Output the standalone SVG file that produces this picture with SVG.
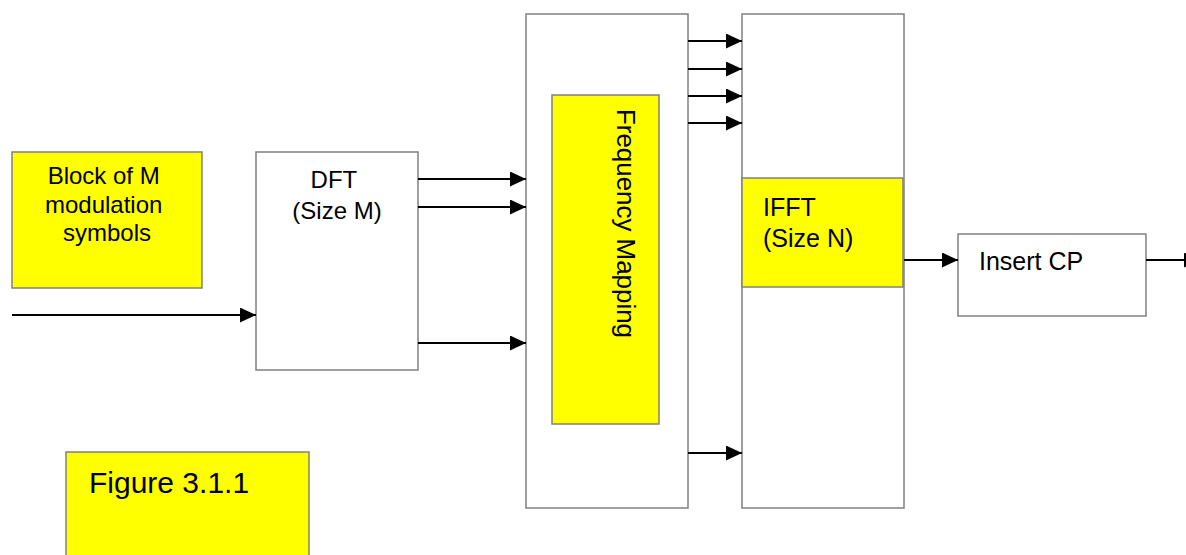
<svg xmlns="http://www.w3.org/2000/svg" width="1186" height="555" viewBox="0 0 1186 555">
  <style>
    .box { fill: #ffffff; stroke: #808080; stroke-width: 1.5; }
    .ybox { fill: #ffff00; stroke: #808080; stroke-width: 1.5; }
    .lbl { font-family: "Liberation Sans", Arial, sans-serif; fill: #000000; }
    .conn { stroke: #000000; stroke-width: 2.2; fill: none; marker-end: url(#arrow); }
  </style>
  <defs>
    <marker id="arrow" markerUnits="userSpaceOnUse" markerWidth="16" markerHeight="15" refX="16" refY="7.5" orient="auto">
      <path d="M0,0 L16,7.5 L0,15 z" fill="#000000"/>
    </marker>
  </defs>
  <rect width="1186" height="555" fill="#ffffff"/>

  <g id="block-of-m">
    <rect class="ybox" x="12" y="152" width="190" height="136"/>
    <text class="lbl" font-size="24" text-anchor="middle">
      <tspan x="107" y="184">Block of M</tspan>
      <tspan x="107" y="213">modulation</tspan>
      <tspan x="107" y="241">symbols</tspan>
    </text>
  </g>

  <g id="dft">
    <rect class="box" x="256" y="152" width="162" height="218"/>
    <text class="lbl" font-size="24" text-anchor="middle">
      <tspan x="337" y="188">DFT</tspan>
      <tspan x="337" y="219">(Size M)</tspan>
    </text>
  </g>

  <g id="frequency-mapping">
    <rect class="box" x="526" y="14" width="162" height="494"/>
    <rect class="ybox" x="552" y="95" width="107" height="329"/>
    <text class="lbl" font-size="25" transform="translate(617,109) rotate(90)" x="0" y="0" textLength="229" lengthAdjust="spacingAndGlyphs">Frequency Mapping</text>
  </g>

  <g id="ifft">
    <rect class="box" x="742" y="14" width="162" height="494"/>
    <rect class="ybox" x="742" y="178" width="161" height="109"/>
    <text class="lbl" font-size="25">
      <tspan x="763" y="216">IFFT</tspan>
      <tspan x="763" y="247">(Size N)</tspan>
    </text>
  </g>

  <g id="insert-cp">
    <rect class="box" x="958" y="234" width="188" height="82"/>
    <text class="lbl" font-size="25" x="979" y="270">Insert CP</text>
  </g>

  <g id="figure-label">
    <rect class="ybox" x="66" y="452" width="243" height="120"/>
    <text class="lbl" font-size="30" x="89" y="493">Figure 3.1.1</text>
  </g>

  <g id="connectors">
    <line class="conn" x1="12" y1="315" x2="256" y2="315"/>
    <line class="conn" x1="418" y1="179" x2="526" y2="179"/>
    <line class="conn" x1="418" y1="207" x2="526" y2="207"/>
    <line class="conn" x1="418" y1="343" x2="526" y2="343"/>
    <line class="conn" x1="688" y1="41" x2="742" y2="41"/>
    <line class="conn" x1="688" y1="69" x2="742" y2="69"/>
    <line class="conn" x1="688" y1="96" x2="742" y2="96"/>
    <line class="conn" x1="688" y1="123" x2="742" y2="123"/>
    <line class="conn" x1="688" y1="453" x2="742" y2="453"/>
    <line class="conn" x1="904" y1="260" x2="958" y2="260"/>
    <line class="conn" x1="1146" y1="260" x2="1200" y2="260"/>
  </g>
</svg>
